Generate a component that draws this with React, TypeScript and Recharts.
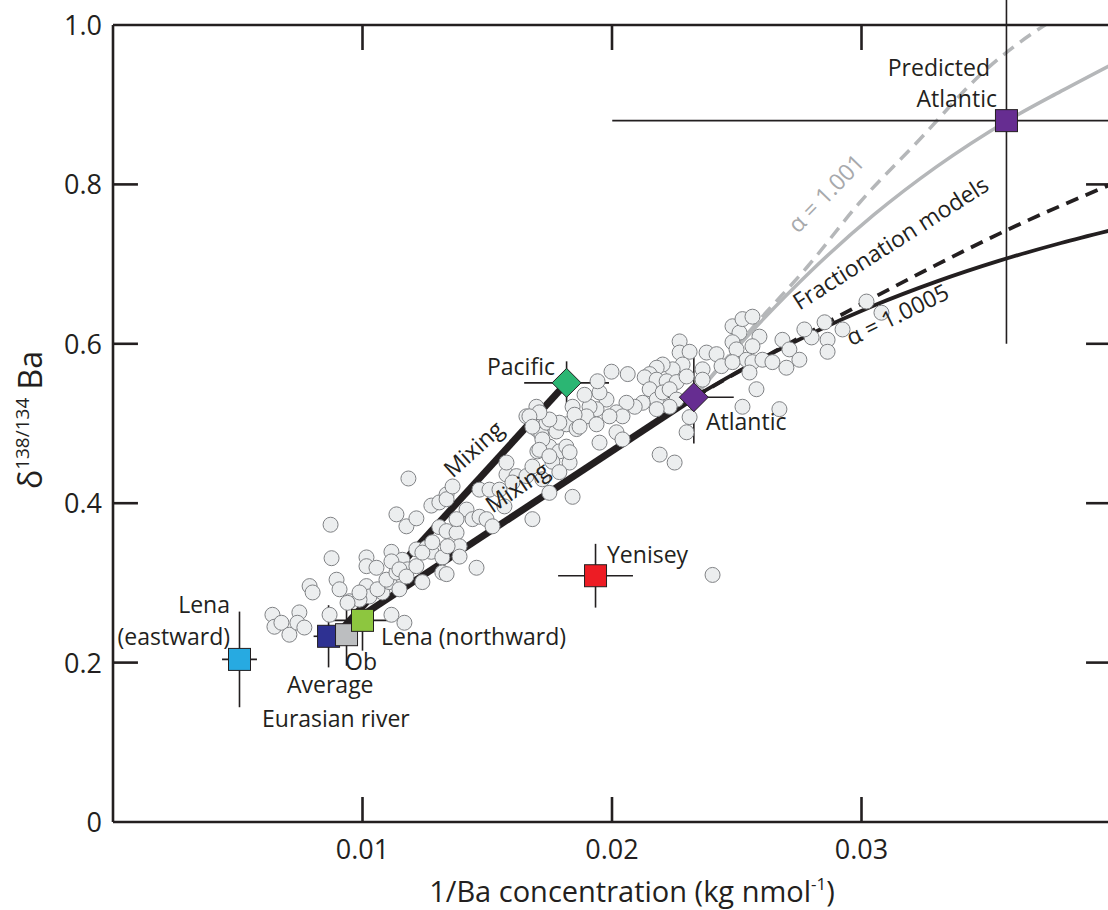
import React from 'react';
import { ComposedChart, Scatter, Line, XAxis, YAxis, ErrorBar, ReferenceLine } from 'recharts';

// Seawater samples: [1/Ba (kg nmol-1), δ138/134Ba]
const seawater: [number, number][] = [
  [0.00639, 0.260], [0.00647, 0.245], [0.00675, 0.250], [0.00707, 0.235], [0.00747, 0.263], [0.00739, 0.250],
  [0.00767, 0.244], [0.00788, 0.296], [0.00800, 0.288], [0.00896, 0.304], [0.00908, 0.292], [0.00948, 0.277],
  [0.00868, 0.260], [0.01016, 0.296], [0.01028, 0.283], [0.00988, 0.279], [0.01080, 0.288], [0.01108, 0.301],
  [0.01148, 0.292], [0.01116, 0.260], [0.01168, 0.250], [0.00940, 0.275], [0.01060, 0.292], [0.01096, 0.304],
  [0.00988, 0.288], [0.00876, 0.331], [0.00872, 0.373], [0.01016, 0.332], [0.01016, 0.321], [0.01056, 0.319],
  [0.01116, 0.339], [0.01160, 0.329], [0.01180, 0.317], [0.01216, 0.342], [0.01256, 0.344], [0.01276, 0.339],
  [0.01320, 0.332], [0.01320, 0.313], [0.01240, 0.301], [0.01136, 0.313], [0.01116, 0.327], [0.01148, 0.317],
  [0.01176, 0.308], [0.01216, 0.321], [0.01240, 0.338], [0.01280, 0.351], [0.01308, 0.370], [0.01337, 0.365],
  [0.01377, 0.363], [0.01389, 0.346], [0.01341, 0.346], [0.01337, 0.311], [0.01457, 0.319], [0.01389, 0.333],
  [0.01136, 0.386], [0.01176, 0.371], [0.01216, 0.381], [0.01276, 0.397], [0.01308, 0.401], [0.01337, 0.411],
  [0.01184, 0.431], [0.01337, 0.405], [0.01361, 0.421], [0.01417, 0.392], [0.01441, 0.380], [0.01469, 0.383],
  [0.01497, 0.380], [0.01377, 0.380], [0.01521, 0.371], [0.01469, 0.417], [0.01509, 0.417], [0.01549, 0.417],
  [0.01577, 0.436], [0.01577, 0.451], [0.01569, 0.396], [0.01617, 0.434], [0.01657, 0.434], [0.01681, 0.380],
  [0.01697, 0.521], [0.01657, 0.509], [0.01697, 0.493], [0.01717, 0.486], [0.01737, 0.501], [0.01701, 0.465],
  [0.01749, 0.471], [0.01777, 0.490], [0.01789, 0.465], [0.01817, 0.471], [0.01817, 0.499], [0.01858, 0.493],
  [0.01842, 0.521], [0.01761, 0.452], [0.01830, 0.451], [0.01789, 0.439], [0.01842, 0.408], [0.01749, 0.413],
  [0.01681, 0.446], [0.01721, 0.430], [0.01601, 0.426],
  [0.02271, 0.603], [0.02271, 0.589], [0.02311, 0.590], [0.02283, 0.574], [0.02243, 0.568], [0.02203, 0.574],
  [0.02179, 0.570], [0.02151, 0.562], [0.02131, 0.558], [0.02063, 0.562], [0.02179, 0.555], [0.02219, 0.553],
  [0.02259, 0.552], [0.02299, 0.559], [0.02363, 0.568], [0.02379, 0.589], [0.02419, 0.587], [0.02439, 0.572],
  [0.02363, 0.555], [0.02151, 0.543], [0.02179, 0.530], [0.02203, 0.539], [0.02231, 0.543], [0.02259, 0.530],
  [0.02231, 0.521], [0.02179, 0.518], [0.02311, 0.508], [0.02299, 0.489], [0.02123, 0.526], [0.02091, 0.521],
  [0.02058, 0.526], [0.02018, 0.514], [0.02042, 0.509], [0.01990, 0.509], [0.01978, 0.530], [0.01950, 0.539],
  [0.01938, 0.518], [0.01910, 0.521], [0.01898, 0.509], [0.01850, 0.511], [0.01938, 0.499], [0.02018, 0.489],
  [0.02042, 0.480], [0.01950, 0.476], [0.01870, 0.496], [0.01789, 0.501], [0.01749, 0.505], [0.01709, 0.514],
  [0.01669, 0.509], [0.01681, 0.496], [0.01721, 0.480], [0.01830, 0.464], [0.01709, 0.467], [0.01749, 0.459],
  [0.02191, 0.461], [0.02251, 0.451], [0.01998, 0.565], [0.01942, 0.553], [0.01890, 0.536],
  [0.02483, 0.622], [0.02511, 0.614], [0.02523, 0.631], [0.02563, 0.634], [0.02591, 0.609], [0.02483, 0.602],
  [0.02499, 0.593], [0.02539, 0.580], [0.02483, 0.577], [0.02563, 0.577], [0.02603, 0.580], [0.02643, 0.577],
  [0.02699, 0.570], [0.02579, 0.543], [0.02523, 0.521], [0.02671, 0.518], [0.02683, 0.605], [0.02563, 0.597],
  [0.02711, 0.593], [0.02800, 0.608], [0.02852, 0.627], [0.02864, 0.605], [0.02864, 0.590], [0.02924, 0.618],
  [0.03020, 0.653], [0.03080, 0.639], [0.02551, 0.564], [0.02751, 0.580], [0.02771, 0.618],
  [0.02403, 0.310],
];

// End members with 2SD uncertainties
const memberNames = ['Lena (eastward)', 'Average Eurasian river', 'Ob', 'Lena (northward)', 'Yenisey', 'Pacific', 'Atlantic', 'Predicted Atlantic'];
const memberX = [0.00507, 0.00864, 0.00936, 0.01000, 0.01934, 0.01818, 0.02328, 0.03581];
const memberY = [0.204, 0.233, 0.235, 0.253, 0.309, 0.551, 0.533, 0.880];
const memberErrX = [0.0007, 0.0006, 0.0004, 0.0013, 0.0015, 0.0017, 0.0016, 0.0158];
const memberErrY = [0.060, 0.039, 0.039, 0.038, 0.040, 0.027, 0.058, 0.280];

// Mixing lines from the river end member to the two ocean end members
const mixingPacific = [[0.0092, 0.243], [0.01818, 0.551]];
const mixingAtlantic = [[0.0092, 0.243], [0.02328, 0.533]];

// Fractionation models starting from Atlantic water
const fracSolid1005 = [[0.02328, 0.533], [0.0255, 0.573], [0.028, 0.613], [0.0305, 0.648], [0.033, 0.678], [0.0355, 0.704], [0.038, 0.7265], [0.04, 0.7425]];
const fracDashed1005 = [[0.02328, 0.533], [0.0265, 0.590], [0.030, 0.650], [0.033, 0.699], [0.03585, 0.743], [0.04, 0.800]];
const fracSolid1001 = [[0.02328, 0.533], [0.0255, 0.612], [0.028, 0.692], [0.0305, 0.762], [0.033, 0.822], [0.03585, 0.880], [0.038, 0.917], [0.04, 0.950]];
const fracDashed1001 = [[0.02328, 0.533], [0.02591, 0.630], [0.02784, 0.697], [0.02992, 0.777], [0.03232, 0.856], [0.03485, 0.940], [0.03726, 0.998], [0.0380, 1.012]];

const X_TICKS = [0.01, 0.02, 0.03];
const Y_TICKS = [0, 0.2, 0.4, 0.6, 0.8, 1.0];
const Y_INNER = [0.2, 0.4, 0.6, 0.8];
const X_MAX = 0.04;
const Y_MAX = 1;
// inward tick length expressed in axis units (about 25px each way)
const TICK_DX = 0.001;
const TICK_DY = 0.0314;

const INK = '#231f20';
const GREY = '#b5b7b9';
const FONT = '"Open Sans", "Noto Sans", sans-serif';
const AXIS_W = 2.6;

const memberStyle: Record<string, { fill: string; diamond?: boolean }> = {
  'Lena (eastward)': { fill: '#27aae1' },
  'Average Eurasian river': { fill: '#2e3192' },
  Ob: { fill: '#bcbec0' },
  'Lena (northward)': { fill: '#8dc63f' },
  Yenisey: { fill: '#ed1c24' },
  Pacific: { fill: '#2bb673', diamond: true },
  Atlantic: { fill: '#662d91', diamond: true },
  'Predicted Atlantic': { fill: '#662d91' },
};

const toPoints = (arr: number[][]) => arr.map(([x, y]) => ({ x, y }));
const samples = toPoints(seawater);
const members = memberNames.map((name, i) => ({
  name,
  x: memberX[i],
  y: memberY[i],
  ex: memberErrX[i],
  ey: memberErrY[i],
}));

// tick segments on all four sides of the frame, pointing inward
const tickSegments = [
  ...X_TICKS.map((v) => [{ x: v, y: 0 }, { x: v, y: TICK_DY }]),
  ...X_TICKS.map((v) => [{ x: v, y: Y_MAX }, { x: v, y: Y_MAX - TICK_DY }]),
  ...Y_INNER.map((v) => [{ x: 0, y: v }, { x: TICK_DX, y: v }]),
  ...Y_INNER.map((v) => [{ x: X_MAX, y: v }, { x: X_MAX - TICK_DX, y: v }]),
];

const SampleDot = (p: any) => (
  <circle cx={p.cx} cy={p.cy} r={7.5} fill="#eceeef" stroke="#808285" strokeWidth={1} />
);

const MemberMark = (p: any) => {
  const st = memberStyle[p.payload.name];
  if (st.diamond) {
    const h = 14.5;
    return (
      <polygon
        points={`${p.cx},${p.cy - h} ${p.cx + h},${p.cy} ${p.cx},${p.cy + h} ${p.cx - h},${p.cy}`}
        fill={st.fill}
        stroke={INK}
        strokeWidth={1}
      />
    );
  }
  return <rect x={p.cx - 11} y={p.cy - 11} width={22} height={22} fill={st.fill} stroke={INK} strokeWidth={1} />;
};

const BottomTick = ({ x, y, payload }: any) => (
  <text x={x} y={y + 37} textAnchor="middle" fontFamily={FONT} fontSize={27} fill={INK}>
    {payload.value.toFixed(2)}
  </text>
);

const LeftTick = ({ x, y, payload }: any) => (
  <text x={x - 11} y={y + 10} textAnchor="end" fontFamily={FONT} fontSize={27} fill={INK}>
    {payload.value === 0 ? '0' : payload.value.toFixed(1)}
  </text>
);

const Label = ({ x, y, angle = 0, anchor = 'start', color = INK, size = 23, children }: any) => (
  <text
    transform={`translate(${x},${y}) rotate(${angle})`}
    textAnchor={anchor}
    fontFamily={FONT}
    fontSize={size}
    fill={color}
  >
    {children}
  </text>
);

export default function App() {
  const axisLine = { stroke: INK, strokeWidth: AXIS_W };
  return (
    <div style={{ position: 'absolute', left: 0, top: 0, width: 1108, height: 910, overflow: 'hidden', background: '#fff' }}>
      <ComposedChart width={1112} height={910} margin={{ top: 25, right: 1, bottom: 0, left: 0 }}>
        <XAxis
          dataKey="x"
          type="number"
          domain={[0, X_MAX]}
          allowDataOverflow
          ticks={X_TICKS}
          interval={0}
          height={88}
          tickSize={0}
          tickMargin={0}
          tickLine={false}
          axisLine={axisLine}
          tick={<BottomTick />}
        />
        <YAxis
          dataKey="y"
          type="number"
          domain={[0, Y_MAX]}
          allowDataOverflow
          ticks={Y_TICKS}
          interval={0}
          width={113}
          tickSize={0}
          tickMargin={0}
          tickLine={false}
          axisLine={axisLine}
          tick={<LeftTick />}
        />

        <Scatter data={samples} shape={SampleDot} isAnimationActive={false} />

        <Line data={toPoints(fracDashed1001)} dataKey="y" type="monotone" stroke={GREY} strokeWidth={3.5} strokeDasharray="13 8" dot={false} isAnimationActive={false} />
        <Line data={toPoints(fracSolid1001)} dataKey="y" type="monotone" stroke={GREY} strokeWidth={3.5} dot={false} isAnimationActive={false} />
        <Line data={toPoints(fracDashed1005)} dataKey="y" type="monotone" stroke={INK} strokeWidth={3.8} strokeDasharray="13 8" dot={false} isAnimationActive={false} />
        <Line data={toPoints(fracSolid1005)} dataKey="y" type="monotone" stroke={INK} strokeWidth={3.8} dot={false} isAnimationActive={false} />
        <Line data={toPoints(mixingPacific)} dataKey="y" type="linear" stroke={INK} strokeWidth={7} dot={false} isAnimationActive={false} />
        <Line data={toPoints(mixingAtlantic)} dataKey="y" type="linear" stroke={INK} strokeWidth={7} dot={false} isAnimationActive={false} />

        {members.map((m) => (
          <Scatter key={m.name} data={[m]} shape={MemberMark} isAnimationActive={false}>
            <ErrorBar dataKey="ex" direction="x" width={0} stroke={INK} strokeWidth={1.6} />
            <ErrorBar dataKey="ey" direction="y" width={0} stroke={INK} strokeWidth={1.6} />
          </Scatter>
        ))}

        {/* closing frame: top and right sides plus inward ticks */}
        <ReferenceLine y={Y_MAX} stroke={INK} strokeWidth={AXIS_W} />
        <ReferenceLine x={X_MAX} stroke={INK} strokeWidth={AXIS_W} />
        {tickSegments.map((seg, i) => (
          <ReferenceLine key={i} segment={seg} stroke={INK} strokeWidth={AXIS_W} />
        ))}
      </ComposedChart>

      <svg width={1108} height={910} style={{ position: 'absolute', left: 0, top: 0, pointerEvents: 'none' }}>
        <Label x={990} y={76} anchor="end">Predicted</Label>
        <Label x={997} y={107} anchor="end">Atlantic</Label>
        <Label x={832} y={199} angle={-46} anchor="middle" color="#a7a9ac">α = 1.001</Label>
        <Label x={895} y={250} angle={-32.5} anchor="middle">Fractionation models</Label>
        <Label x={901} y={322} angle={-26} anchor="middle">α = 1.0005</Label>
        <Label x={555} y={375} anchor="end">Pacific</Label>
        <Label x={706} y={430}>Atlantic</Label>
        <Label x={607} y={563}>Yenisey</Label>
        <Label x={479} y={455} angle={-42} anchor="middle">Mixing</Label>
        <Label x={522} y={494} angle={-34} anchor="middle">Mixing</Label>
        <Label x={381} y={645}>Lena (northward)</Label>
        <Label x={345} y={670}>Ob</Label>
        <Label x={287} y={693}>Average</Label>
        <Label x={262} y={727}>Eurasian river</Label>
        <Label x={230} y={613} anchor="end">Lena</Label>
        <Label x={230} y={645} anchor="end">(eastward)</Label>

        <text x={632} y={902} textAnchor="middle" fontFamily={FONT} fontSize={29} fill={INK}>
          1/Ba concentration (kg nmol
          <tspan fontSize={17} dy={-12}>-1</tspan>
          <tspan dy={12}>)</tspan>
        </text>
        <text transform="translate(42,420) rotate(-90)" textAnchor="middle" fontFamily={FONT} fontSize={32} fill={INK}>
          δ
          <tspan fontSize={19} dy={-13}>138/134</tspan>
          <tspan dy={13}> Ba</tspan>
        </text>
      </svg>
    </div>
  );
}
